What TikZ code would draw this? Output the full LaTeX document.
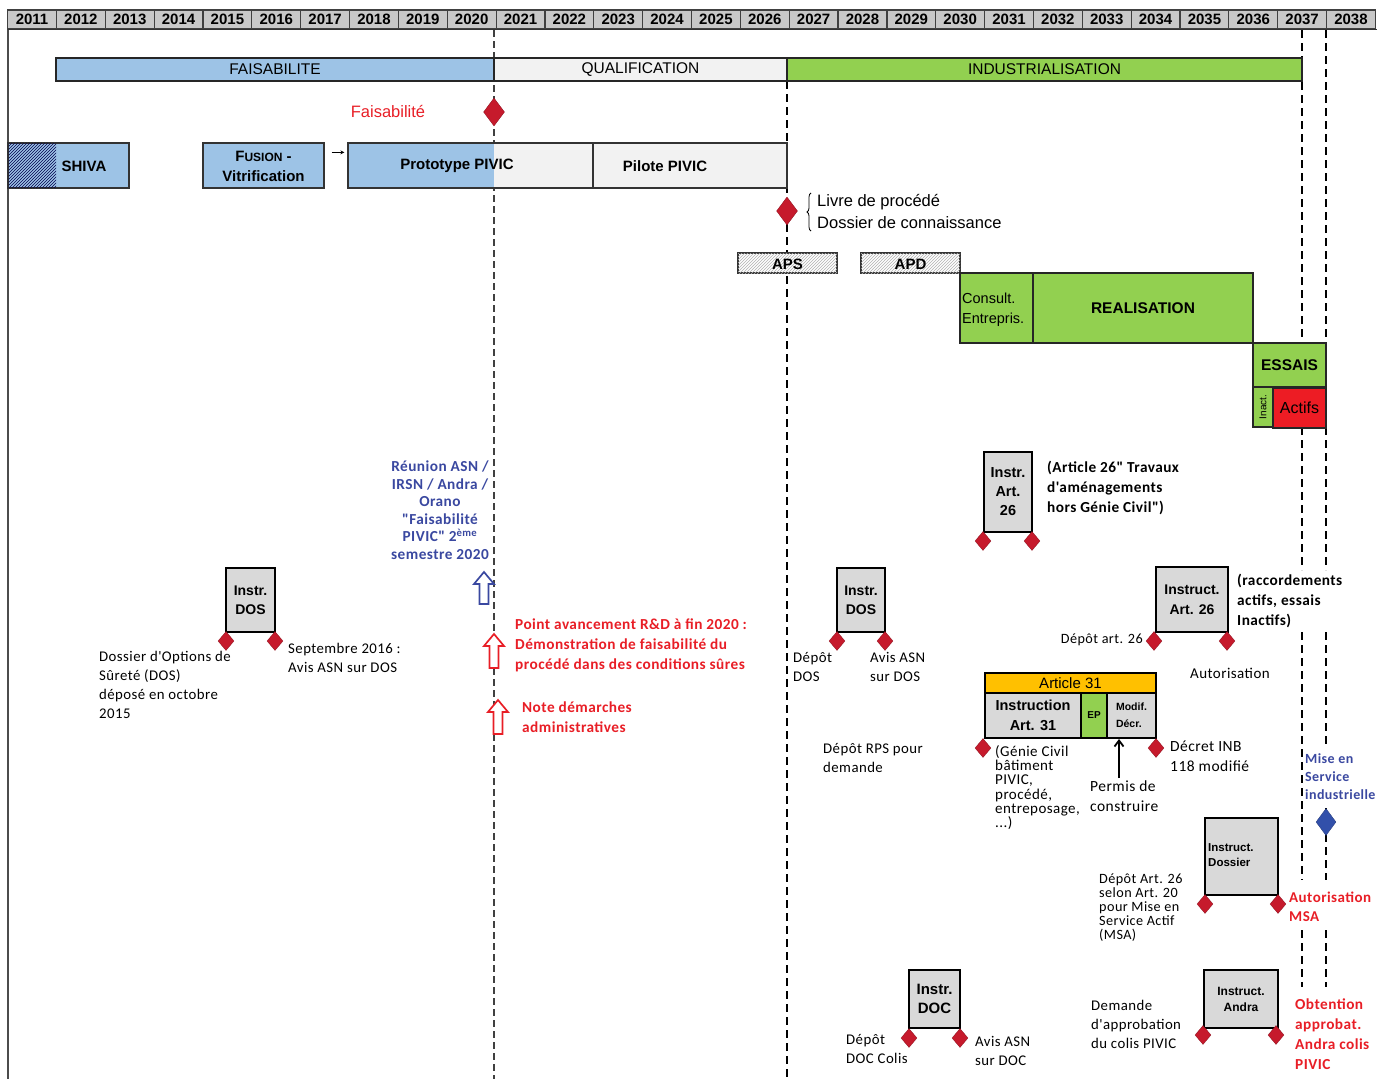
\documentclass[tikz,border=0pt]{standalone}
\usepackage{fontspec}
\setmainfont{Carlito}[LetterSpace=3, Ligatures=TeXOff]
\newfontfamily\narrowf{Liberation Sans}
\newfontfamily\armf{Liberation Sans}
\usetikzlibrary{shapes.geometric,patterns,decorations.pathreplacing,arrows.meta,calc}
\definecolor{cblue}{RGB}{157,195,230}
\definecolor{clgray}{RGB}{242,242,242}
\definecolor{cgreen}{RGB}{146,208,80}
\definecolor{cgray}{RGB}{217,217,217}
\definecolor{corange}{RGB}{255,192,0}
\definecolor{cdia}{RGB}{198,26,44}
\definecolor{cred}{RGB}{232,30,38}
\definecolor{ctblue}{RGB}{58,72,160}
\definecolor{chead}{RGB}{200,200,200}
\definecolor{cactif}{RGB}{237,28,36}
\definecolor{cbdia}{RGB}{50,80,170}
\newcommand\hollowarrow[4]{%
  \draw[#4, line width=1.7pt, fill=white, line join=miter]
    (#1-4.5,#3) -- (#1-4.5,#2+12) -- (#1-10,#2+12) -- (#1,#2) -- (#1+10,#2+12) -- (#1+4.5,#2+12) -- (#1+4.5,#3) -- cycle;}
\tikzset{
  yearcell/.style={draw=black!75, fill=chead, line width=1.2pt, minimum width=48.85pt, minimum height=19pt, inner sep=0, font=\narrowf\bfseries\fontsize{15}{16}\selectfont},
  phase/.style={draw=black!85, line width=1.6pt, minimum height=23pt, inner sep=0, font=\narrowf\fontsize{15.5}{16}\selectfont},
  barbox/.style={draw=black!80, line width=1.3pt, inner sep=0},
  bartext/.style={inner sep=0, align=center, font=\narrowf\bfseries\fontsize{15}{20}\selectfont},
  instr/.style={draw=black, fill=cgray, line width=2pt, inner sep=0, align=center, font=\armf\bfseries\fontsize{14}{19}\selectfont},
  gbox/.style={draw=black!85, fill=cgreen, line width=1.3pt, inner sep=0},
  dia/.style={diamond, fill=cdia, draw=cdia!70!black, line width=0.3pt, inner sep=0, minimum width=16pt, minimum height=19pt},
  bigdia/.style={diamond, fill=cdia, draw=cdia!70!black, line width=0.3pt, inner sep=0, minimum width=21pt, minimum height=28pt},
  txt/.style={inner sep=0, anchor=north west, align=left, font=\fontsize{14.8}{19}\selectfont},
  btxt/.style={txt, font=\bfseries\fontsize{15.3}{20}\selectfont},
  vline/.style={black, line width=2.2pt, dash pattern=on 8pt off 5pt},
  thinvline/.style={black!75, line width=1.1pt, dash pattern=on 7pt off 4pt},
}
\begin{document}
\begin{tikzpicture}[x=1pt,y=-1pt]
\useasboundingbox (0,0) rectangle (1377,1079);
% header
\foreach \i in {0,...,27} {
  \pgfmathsetmacro\xc{7.6+48.85*\i+24.425}
  \pgfmathtruncatemacro\yr{2011+\i}
  \node[yearcell] (yr\i) at (\xc,19.5) {\yr};
}
\draw[black!80, line width=1.6pt] (8,29.5) -- (1377,29.5);
\draw[black!70, line width=1.3pt] (8,29.5) -- (8,1079);
% vertical dashed lines
\draw[thinvline] (494,30) -- (494,1079);
\draw[vline] (787,81) -- (787,1079);
\draw[vline] (1302,30) -- (1302,343);
\draw[vline] (1302,427) -- (1302,570);
\draw[vline] (1302,632) -- (1302,880);
\draw[vline] (1302,930) -- (1302,987);
\draw[vline] (1326,30) -- (1326,343);
\draw[vline] (1326,427) -- (1326,570);
\draw[vline] (1326,632) -- (1326,745);
\draw[vline] (1326,808) -- (1326,880);
\draw[vline] (1326,930) -- (1326,987);
% phase bars
\node[phase, fill=cblue, minimum width=438pt] (faisab) at (275,69.5) {FAISABILITE};
\node[phase, fill=clgray, minimum width=293pt] (qualif) at (640.5,69.5) {QUALIFICATION};
\node[phase, fill=cgreen, minimum width=515pt] (indus) at (1044.5,69.5) {INDUSTRIALISATION};
% faisabilite milestone
\node[bigdia] (dfais) at (494,112) {};
\node[inner sep=0, text=cred, font=\narrowf\fontsize{16.5}{17}\selectfont] (tfais) at (388,112) {Faisabilité};
% SHIVA
\node[barbox, fill=cblue, minimum width=121pt, minimum height=45pt] (shiva) at (68.5,165.5) {};
\fill[pattern=north east lines, pattern color=blue!30!black] (8.7,143.7) rectangle (56,187.3);
\draw[black!80, line width=1.3pt] (shiva.north west) rectangle (shiva.south east);
\node[bartext] (tshiva) at (84,166) {SHIVA};
% Fusion
\node[barbox, fill=cblue, minimum width=121pt, minimum height=45pt] (fusion) at (263.5,165.5) {};
\node[bartext, font=\narrowf\bfseries\fontsize{15}{20}\selectfont] (tfusion) at (263.5,166) {F{\fontsize{12}{12}\selectfont USION} -\\Vitrification};
% Prototype
\fill[cblue] (348,143) rectangle (494,188);
\fill[clgray] (494,143) rectangle (593,188);
\node[barbox, minimum width=245pt, minimum height=45pt] (proto) at (470.5,165.5) {};
\node[bartext] (tproto) at (457,166) {Prototype PIVIC};
\draw[-{Stealth[length=4pt,width=4pt]}, line width=0.9pt] ($(fusion.north east)+(7,10)$) -- ($(proto.north west)+(-3,10)$);
% Pilote
\node[barbox, fill=clgray, minimum width=194pt, minimum height=45pt] (pilote) at (690,165.5) {};
\node[bartext] (tpilote) at (665,166) {Pilote PIVIC};
% livre de procede
\node[bigdia] (dlivre) at (787,211) {};
\draw[decorate, decoration={brace, amplitude=4pt}, line width=0.8pt] (811,231) -- (811,193);
\node[txt, font=\narrowf\fontsize{16.5}{22}\selectfont] (tlivre) at (817,194) {Livre de procédé\\Dossier de connaissance};
% APS APD
\node[barbox, fill=white, postaction={pattern=north east lines, pattern color=black!30}, minimum width=99pt, minimum height=20pt] (aps) at (787.5,263) {};
\node[bartext, font=\narrowf\bfseries\fontsize{15}{16}\selectfont] (taps) at (787.5,264) {APS};
\node[barbox, fill=white, postaction={pattern=north east lines, pattern color=black!30}, minimum width=99pt, minimum height=20pt] (apd) at (910.5,263) {};
\node[bartext, font=\narrowf\bfseries\fontsize{15}{16}\selectfont] (tapd) at (910.5,264) {APD};
% realisation
\node[gbox, minimum width=73pt, minimum height=70pt] (consult) at (996.5,308) {};
\node[txt, font=\narrowf\fontsize{14.5}{19.5}\selectfont] (tconsult) at (962,293) {Consult.\\Entrepris.};
\node[gbox, minimum width=220pt, minimum height=70pt, font=\narrowf\bfseries\fontsize{15.5}{16}\selectfont] (realis) at (1143,308) {REALISATION};
\node[gbox, minimum width=73pt, minimum height=44pt, font=\narrowf\bfseries\fontsize{15.5}{16}\selectfont] (essais) at (1289.5,365) {ESSAIS};
\node[gbox, minimum width=20pt, minimum height=40pt] (inact) at (1263,407) {};
\node[inner sep=0, rotate=90, font=\narrowf\fontsize{10}{11}\selectfont] (tinact) at (1263,407) {Inact.};
\node[gbox, fill=cactif, minimum width=53pt, minimum height=40pt, font=\narrowf\fontsize{16}{17}\selectfont] (actifs) at (1299.5,408) {Actifs};
% Instr Art 26
\node[instr, minimum width=48pt, minimum height=80pt, font=\armf\bfseries\fontsize{14.5}{19}\selectfont] (iart26) at (1008,492) {Instr.\\Art.\\26};
\node[dia] (dart26a) at (983,541) {};
\node[dia] (dart26b) at (1032,541) {};
\node[btxt] (tart26) at (1047,461) {(Article 26" Travaux\\d'aménagements\\hors Génie Civil")};
% left DOS
\node[instr, minimum width=49pt, minimum height=64pt] (idos1) at (250.5,600) {Instr.\\DOS};
\node[dia] (ddos1a) at (226,641) {};
\node[dia] (ddos1b) at (275,641) {};
\node[txt] (tdos1a) at (99,651) {Dossier d'Options de\\Sûreté (DOS)\\déposé en octobre\\2015};
\node[txt] (tdos1b) at (288,643) {Septembre 2016 :\\Avis ASN sur DOS};
% blue meeting
\node[inner sep=0, anchor=north, align=center, text=ctblue, font=\bfseries\fontsize{15.3}{17.5}\selectfont] (treunion) at (440,461) {Réunion ASN /\\IRSN / Andra /\\Orano\\"Faisabilité\\PIVIC" 2\textsuperscript{ème}\\semestre 2020};
\hollowarrow{484}{572}{604}{ctblue}
\hollowarrow{494}{634}{668}{cred}
\hollowarrow{498}{700}{734}{cred}
\node[btxt, text=cred] (tpoint) at (515,619) {Point avancement R\&D à fin 2020 :\\Démonstration de faisabilité du\\procédé dans des conditions sûres};
\node[btxt, text=cred] (tnote) at (522,702) {Note démarches\\administratives};
% mid DOS
\node[instr, minimum width=48pt, minimum height=64pt] (idos2) at (861,600) {Instr.\\DOS};
\node[dia] (ddos2a) at (837,641) {};
\node[dia] (ddos2b) at (885,641) {};
\node[txt] (tdos2a) at (793,652) {Dépôt\\DOS};
\node[txt] (tdos2b) at (870,652) {Avis ASN\\sur DOS};
\node[txt] (trps) at (823,743) {Dépôt RPS pour\\demande};
% Instruct Art 26
\node[instr, minimum width=72pt, minimum height=65pt, font=\armf\bfseries\fontsize{14}{20}\selectfont] (iart26b) at (1192,599.5) {Instruct.\\Art. 26};
\node[dia] (dart26c) at (1154,641) {};
\node[dia] (dart26d) at (1227,641) {};
\node[inner sep=0, anchor=east, font=\fontsize{14.2}{16}\selectfont] (tdepart26) at (1143,640) {Dépôt art. 26};
\node[btxt] (traccord) at (1237,574) {(raccordements\\actifs, essais\\Inactifs)};
\node[inner sep=0, anchor=west, font=\fontsize{15}{16}\selectfont] (tautor) at (1190,673) {Autorisation};
% Article 31
\node[draw=black, fill=corange, line width=2pt, minimum width=171pt, minimum height=20pt, inner sep=0, font=\narrowf\fontsize{15}{16}\selectfont] (art31) at (1070.5,683) {Article 31};
\node[instr, minimum width=96pt, minimum height=45pt, font=\armf\bfseries\fontsize{14.5}{20}\selectfont] (inst31) at (1033,715.5) {Instruction\\Art. 31};
\node[instr, fill=cgreen, minimum width=26pt, minimum height=45pt, font=\armf\bfseries\fontsize{10}{12}\selectfont] (ep) at (1094,715.5) {EP};
\node[instr, minimum width=49pt, minimum height=45pt, font=\armf\bfseries\fontsize{10.5}{17}\selectfont, align=left] (modif) at (1131.5,715.5) {Modif.\\Décr.};
\node[dia] (d31a) at (983,748) {};
\node[dia] (d31b) at (1156,748) {};
\node[txt, font=\fontsize{15}{14.3}\selectfont] (tgenie) at (995,745) {(Génie Civil\\bâtiment\\PIVIC,\\procédé,\\entreposage,\\...)};
\node[txt, font=\fontsize{15.5}{20}\selectfont] (tpermis) at (1090,781) {Permis de\\construire};
\coordinate (permtip) at (1119,778);
\draw[-{Straight Barb[length=6pt,width=9pt]}, line width=1.8pt] (permtip) -- (permtip |- modif.south);
\node[txt, font=\fontsize{15.5}{20}\selectfont] (tdecret) at (1170,741) {Décret INB\\118 modifié};
% mise en service
\node[txt, text=ctblue, font=\bfseries\fontsize{14}{18}\selectfont] (tmise) at (1305,753) {Mise en\\Service\\industrielle};
\node[diamond, fill=cbdia, draw=cbdia!70!black, line width=0.3pt, inner sep=0, minimum width=20pt, minimum height=27pt] (dmise) at (1326,822) {};
% Instruct Dossier
\node[instr, minimum width=73pt, minimum height=77pt] (idossier) at (1241.5,856.5) {};
\node[txt, font=\narrowf\bfseries\fontsize{11.5}{15}\selectfont] (tidossier) at (1208,843) {Instruct.\\Dossier};
\node[dia] (ddosa) at (1205,904) {};
\node[dia] (ddosb) at (1278,904) {};
\node[txt, font=\fontsize{14.2}{14}\selectfont] (tmsa) at (1099,874) {Dépôt Art. 26\\selon Art. 20\\pour Mise en\\Service Actif\\(MSA)};
\node[btxt, text=cred, font=\bfseries\fontsize{15}{19}\selectfont] (tautmsa) at (1289,892) {Autorisation\\MSA};
% Instr DOC
\node[instr, minimum width=51pt, minimum height=58pt, font=\narrowf\bfseries\fontsize{15}{19}\selectfont] (idoc) at (934.5,999) {Instr.\\DOC};
\node[dia] (ddoca) at (909,1038) {};
\node[dia] (ddocb) at (960,1038) {};
\node[txt] (tdoca) at (846,1034) {Dépôt\\DOC Colis};
\node[txt] (tdocb) at (975,1036) {Avis ASN\\sur DOC};
% Instruct Andra
\node[instr, minimum width=74pt, minimum height=58pt, font=\narrowf\bfseries\fontsize{12}{16}\selectfont] (iandra) at (1241,999) {Instruct.\\Andra};
\node[dia] (dandraa) at (1203,1035) {};
\node[dia] (dandrab) at (1276,1035) {};
\node[txt] (tandra) at (1091,1000) {Demande\\d'approbation\\du colis PIVIC};
\node[btxt, text=cred] (tobt) at (1295,999) {Obtention\\approbat.\\Andra colis\\PIVIC};
\end{tikzpicture}
\end{document}
